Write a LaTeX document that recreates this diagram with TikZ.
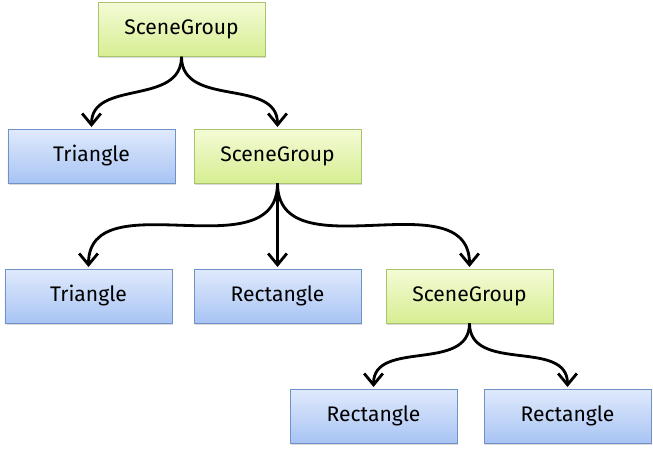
\documentclass[tikz,border=0pt]{standalone}
\usepackage{fontspec}
\setmainfont{Fira Sans}
\usetikzlibrary{arrows.meta,shadows}
\definecolor{grouptop}{RGB}{244,251,214}
\definecolor{groupbot}{RGB}{214,238,146}
\definecolor{groupline}{RGB}{168,196,110}
\definecolor{shapetop}{RGB}{224,234,252}
\definecolor{shapebot}{RGB}{168,196,244}
\definecolor{shapeline}{RGB}{112,146,200}
\tikzset{
  box/.style={rectangle, minimum width=5.01cm, minimum height=1.62cm,
    font=\fontsize{18}{20}\selectfont, drop shadow={shadow xshift=0.04cm,
    shadow yshift=-0.05cm, opacity=0.3}},
  groupbox/.style={box, draw=groupline, top color=grouptop, bottom color=groupbot},
  shapebox/.style={box, draw=shapeline, top color=shapetop, bottom color=shapebot},
  link/.style={line width=2.4pt, -{Straight Barb[length=3.4mm, width=5.6mm, line width=2.4pt]},
    shorten >=1.5pt},
  swerve/.style={out=-90, in=90, looseness=1.1}
}
\begin{document}
\begin{tikzpicture}[x=0.03cm, y=-0.03cm]
      \useasboundingbox (0,0) rectangle (653,449);
      \path
        (181.5,29.5) node[groupbox] (g0){SceneGroup}
        (91.5,156) node[shapebox] (t0){Triangle}
        (277.5,156) node[groupbox] (g1){SceneGroup}
        (88.5,296) node[shapebox] (t1){Triangle}
        (277.5,296) node[shapebox] (r0){Rectangle}
        (469.5,296) node[groupbox] (g2){SceneGroup}
        (373.5,416) node[shapebox] (r1){Rectangle}
        (567.5,416) node[shapebox] (r2){Rectangle};
      \begin{scope}[link]
        \draw (g0.south) to[swerve] (t0.north);
        \draw (g0.south) to[swerve] (g1.north);
        \draw (g1.south) to[swerve] (t1.north);
        \draw (g1.south) -- (r0.north);
        \draw (g1.south) to[swerve] (g2.north);
        \draw (g2.south) to[swerve] (r1.north);
        \draw (g2.south) to[swerve] (r2.north);
      \end{scope}
    \end{tikzpicture}
\end{document}
